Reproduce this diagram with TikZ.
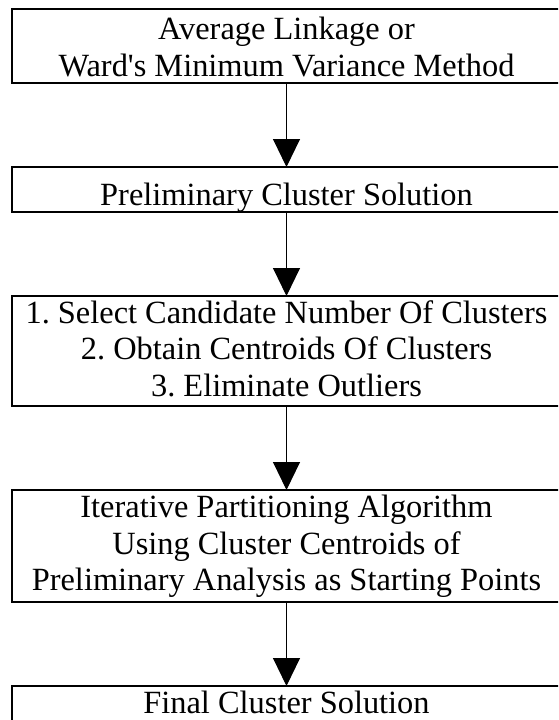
\documentclass[tikz,border=0pt]{standalone}
\usepackage{fontspec}
\setmainfont{Liberation Serif}
\usetikzlibrary{arrows.meta}
\frenchspacing
\begin{document}
\begin{tikzpicture}[x=1pt,y=-1pt,
  box/.style={draw, line width=2pt, minimum width=549pt, inner sep=0pt, outer sep=0pt},
  txt/.style={anchor=base, inner sep=0pt, font=\fontsize{32.4}{37}\selectfont},
  conn/.style={line width=1pt, -{Triangle[length=28pt,width=27pt]}}]
\useasboundingbox (0,0) rectangle (558,720);
\clip (0,0) rectangle (558,720);
\node[box, minimum height=74pt]  (b1) at (286.5,46) {};
\node[box, minimum height=45pt]  (b2) at (286.5,189.5) {};
\node[box, minimum height=110pt] (b3) at (286.5,351) {};
\node[box, minimum height=112pt] (b4) at (286.5,546) {};
\node[box, minimum height=74pt]  (b5) at (286.5,723) {};
\node[txt] (t11) at (286.5,39.5) {Average Linkage or};
\node[txt] (t12) at (286.5,76.5) {Ward\textquotesingle s Minimum Variance Method};
\node[txt] (t21) at (286.5,205.5) {Preliminary Cluster Solution};
\node[txt] (t31) at (286.5,323) {1. Select Candidate Number Of Clusters};
\node[txt] (t32) at (286.5,359.5) {2. Obtain Centroids Of Clusters};
\node[txt] (t33) at (286.5,396) {3. Eliminate Outliers};
\node[txt] (t41) at (286.5,517.5) {Iterative Partitioning Algorithm};
\node[txt] (t42) at (286.5,554) {Using Cluster Centroids of};
\node[txt] (t43) at (286.5,590.5) {Preliminary Analysis as Starting Points};
\node[txt] (t51) at (286.5,713) {Final Cluster Solution};
\draw[conn] (b1.south) -- (b2.north);
\draw[conn] (b2.south) -- (b3.north);
\draw[conn] (b3.south) -- (b4.north);
\draw[conn] (b4.south) -- (b5.north);
\end{tikzpicture}
\end{document}
